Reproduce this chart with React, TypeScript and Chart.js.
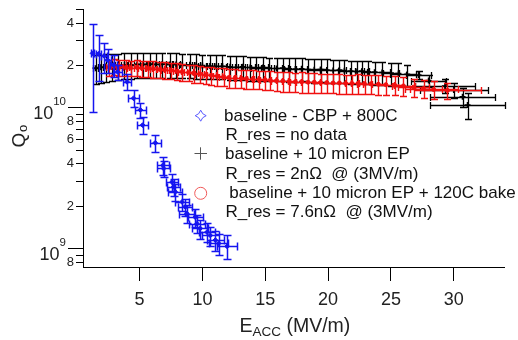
import React, { useEffect, useRef } from "react";
import { Chart, registerables } from "chart.js";
Chart.register(...registerables);

const FONT = "'Liberation Sans', Arial, Helvetica, sans-serif";

// ---- data: baseline - CBP + 800C (blue) ----
const blueE = [1.26, 1.74, 2.19, 2.45, 2.93, 3.25, 4.0, 4.52, 5.06, 5.24, 6.25, 6.86, 6.91, 7.58, 7.71, 7.84, 8.38, 8.64, 8.77, 9.43, 9.57, 9.83, 10.37, 10.63, 11.03, 11.29, 11.96];
const blueQ = [2.42e10, 2.4e10, 2.32e10, 2.17e10, 2.0e10, 1.79e10, 1.52e10, 1.16e10, 9.6e9, 7.48e9, 5.6e9, 3.88e9, 3.68e9, 2.95e9, 2.72e9, 2.51e9, 2.13e9, 1.96e9, 1.76e9, 1.66e9, 1.49e9, 1.38e9, 1.3e9, 1.23e9, 1.14e9, 1.08e9, 1.03e9];
const blueQErr = [1.5e10, 0.87e10, 0.56e10, 0.42e10, 0.36e10, 0.22e10, 0.2e10, 0.16e10, 0.12e10, 0.1e10, 0.8e9, 0.55e9, 0.5e9, 0.42e9, 0.38e9, 0.35e9, 0.3e9, 0.28e9, 0.25e9, 0.24e9, 0.22e9, 0.21e9, 0.2e9, 0.19e9, 0.18e9, 0.18e9, 0.2e9];
const blueEErr = [0.15, 0.2, 0.25, 0.3, 0.3, 0.35, 0.35, 0.4, 0.45, 0.45, 0.45, 0.5, 0.5, 0.5, 0.5, 0.55, 0.55, 0.55, 0.6, 0.6, 0.6, 0.65, 0.65, 0.7, 0.7, 0.75, 0.8];

// ---- data: baseline + 10 micron EP (black) ----
const blackE = [1.5, 1.9, 2.3, 2.8, 3.3, 3.8, 4.3, 4.8, 5.3, 5.8, 6.3, 6.8, 7.4, 7.9, 8.4, 9.0, 9.5, 10.0, 10.6, 11.1, 11.6, 12.2, 12.7, 13.2, 13.8, 14.3, 14.8, 15.3, 15.9, 16.4, 16.9, 17.4, 17.9, 18.4, 18.9, 19.4, 19.9, 20.4, 20.9, 21.3, 21.8, 22.3, 22.7, 23.2, 23.7, 24.3, 25.0, 25.6, 26.3, 27.2, 28.0, 29.3, 30.0, 30.7, 31.1];
const blackQ = [1.9e10, 1.93e10, 1.95e10, 1.97e10, 1.99e10, 2.0e10, 2.01e10, 2.02e10, 2.02e10, 2.03e10, 2.02e10, 2.03e10, 2.02e10, 2.02e10, 2.0e10, 2.01e10, 1.99e10, 1.98e10, 1.97e10, 1.96e10, 1.96e10, 1.94e10, 1.93e10, 1.94e10, 1.92e10, 1.91e10, 1.92e10, 1.9e10, 1.89e10, 1.9e10, 1.88e10, 1.87e10, 1.88e10, 1.86e10, 1.85e10, 1.86e10, 1.84e10, 1.83e10, 1.84e10, 1.82e10, 1.81e10, 1.8e10, 1.81e10, 1.79e10, 1.78e10, 1.77e10, 1.75e10, 1.74e10, 1.72e10, 1.7e10, 1.55e10, 1.42e10, 1.33e10, 1.19e10, 1.04e10];
const blackQErr = [0.44e10, 0.43e10, 0.43e10, 0.42e10, 0.42e10, 0.42e10, 0.41e10, 0.41e10, 0.41e10, 0.41e10, 0.4e10, 0.4e10, 0.4e10, 0.4e10, 0.39e10, 0.39e10, 0.39e10, 0.39e10, 0.38e10, 0.38e10, 0.38e10, 0.38e10, 0.37e10, 0.37e10, 0.37e10, 0.37e10, 0.37e10, 0.36e10, 0.36e10, 0.36e10, 0.36e10, 0.36e10, 0.35e10, 0.35e10, 0.35e10, 0.35e10, 0.35e10, 0.34e10, 0.34e10, 0.34e10, 0.34e10, 0.34e10, 0.33e10, 0.33e10, 0.33e10, 0.33e10, 0.32e10, 0.32e10, 0.29e10, 0.12e10, 0.15e10, 0.16e10, 0.17e10, 0.18e10, 0.22e10];
const blackEErr = [0.2, 0.2, 0.2, 0.22, 0.22, 0.24, 0.24, 0.25, 0.26, 0.27, 0.28, 0.28, 0.3, 0.3, 0.3, 0.32, 0.32, 0.33, 0.34, 0.35, 0.35, 0.36, 0.37, 0.38, 0.38, 0.4, 0.4, 0.42, 0.42, 0.43, 0.44, 0.45, 0.45, 0.46, 0.47, 0.48, 0.5, 0.5, 0.52, 0.52, 0.54, 0.55, 0.56, 0.57, 0.58, 0.6, 0.62, 0.65, 0.7, 1.0, 1.4, 2.4, 2.7, 2.6, 3.0];

// ---- data: baseline + 10 micron EP + 120C bake (red) ----
const redE = [2.6, 3.0, 3.4, 3.9, 4.3, 4.8, 5.2, 5.7, 6.1, 6.6, 7.0, 7.5, 8.0, 8.4, 8.9, 9.3, 9.8, 10.3, 10.7, 11.2, 11.7, 12.1, 12.6, 13.1, 13.5, 14.0, 14.5, 15.0, 15.4, 15.9, 16.4, 16.9, 17.4, 17.9, 18.4, 18.9, 19.4, 19.9, 20.4, 20.9, 21.4, 21.9, 22.4, 22.9, 23.4, 24.0, 24.6, 25.3, 26.0, 26.8, 27.6, 28.4, 29.5];
const redQ = [1.93e10, 1.96e10, 1.93e10, 1.92e10, 1.91e10, 1.92e10, 1.9e10, 1.89e10, 1.88e10, 1.86e10, 1.85e10, 1.83e10, 1.81e10, 1.79e10, 1.77e10, 1.75e10, 1.73e10, 1.71e10, 1.69e10, 1.67e10, 1.65e10, 1.63e10, 1.62e10, 1.61e10, 1.6e10, 1.59e10, 1.58e10, 1.57e10, 1.56e10, 1.55e10, 1.54e10, 1.53e10, 1.52e10, 1.52e10, 1.51e10, 1.51e10, 1.5e10, 1.5e10, 1.49e10, 1.49e10, 1.48e10, 1.48e10, 1.48e10, 1.47e10, 1.47e10, 1.46e10, 1.45e10, 1.44e10, 1.42e10, 1.39e10, 1.36e10, 1.34e10, 1.32e10];
const redQErr = [0.25e10, 0.26e10, 0.25e10, 0.25e10, 0.24e10, 0.25e10, 0.25e10, 0.24e10, 0.25e10, 0.24e10, 0.25e10, 0.24e10, 0.25e10, 0.24e10, 0.24e10, 0.25e10, 0.24e10, 0.24e10, 0.25e10, 0.24e10, 0.24e10, 0.25e10, 0.24e10, 0.24e10, 0.25e10, 0.24e10, 0.24e10, 0.25e10, 0.24e10, 0.24e10, 0.25e10, 0.24e10, 0.24e10, 0.25e10, 0.24e10, 0.24e10, 0.24e10, 0.24e10, 0.23e10, 0.24e10, 0.23e10, 0.23e10, 0.24e10, 0.23e10, 0.23e10, 0.23e10, 0.22e10, 0.22e10, 0.22e10, 0.21e10, 0.2e10, 0.2e10, 0.18e10];
const redEErr = [0.25, 0.25, 0.26, 0.27, 0.28, 0.28, 0.29, 0.3, 0.3, 0.31, 0.32, 0.32, 0.33, 0.34, 0.34, 0.35, 0.36, 0.36, 0.37, 0.38, 0.38, 0.39, 0.4, 0.4, 0.41, 0.42, 0.42, 0.43, 0.44, 0.44, 0.45, 0.46, 0.46, 0.47, 0.48, 0.48, 0.49, 0.5, 0.5, 0.52, 0.53, 0.54, 0.56, 0.58, 0.6, 0.62, 0.66, 0.7, 0.9, 1.2, 1.5, 1.9, 2.65];

// ---- axes ----
const xTicks = [5, 10, 15, 20, 25, 30];
const xMin = 0.5;
const xMax = 34;
const yMin = 7.34e8;
const yMax = 5.0e10;
const yMajorTicks = [1e9, 1e10];
const yMajorExp = ["9", "10"];
const yMinorTicks = [8e8, 9e8, 2e9, 3e9, 4e9, 5e9, 6e9, 7e9, 8e9, 9e9, 2e10, 3e10, 4e10, 5e10];
const yMinorLabels = ["8", "", "2", "", "4", "", "6", "", "8", "", "2", "", "4", ""];

// ---- legend ----
const legendLines = [
  "baseline - CBP + 800C",
  "R_res = no data",
  "baseline + 10 micron EP",
  "R_res = 2n\u03A9  @ (3MV/m)",
  "baseline + 10 micron EP + 120C bake",
  "R_res = 7.6n\u03A9  @ (3MV/m)",
];

const SERIES = [
  { e: blueE, q: blueQ, qErr: blueQErr, eErr: blueEErr, color: "#1515f0", cap: 4, lw: 1.5 },
  { e: redE, q: redQ, qErr: redQErr, eErr: redEErr, color: "#f01010", cap: 3.5, lw: 1.4 },
  { e: blackE, q: blackQ, qErr: blackQErr, eErr: blackEErr, color: "#000000", cap: 3.5, lw: 1.3 },
];

const errorBarPlugin = {
  id: "errorBars",
  beforeDatasetDraw(chart: any, args: any) {
    const s = SERIES[args.index];
    if (!s) return;
    const { ctx, chartArea } = chart;
    const xs = chart.scales.x;
    const ys = chart.scales.y;
    ctx.save();
    ctx.beginPath();
    ctx.rect(chartArea.left, chartArea.top - 2, chartArea.right - chartArea.left + 14, chartArea.bottom - chartArea.top + 2);
    ctx.clip();
    ctx.strokeStyle = s.color;
    ctx.lineWidth = s.lw;
    ctx.beginPath();
    for (let i = 0; i < s.e.length; i++) {
      const X = Math.round(xs.getPixelForValue(s.e[i])) + 0.5;
      const Y = Math.round(ys.getPixelForValue(s.q[i])) + 0.5;
      const yt = Math.round(ys.getPixelForValue(s.q[i] + s.qErr[i])) + 0.5;
      const lo = s.q[i] - s.qErr[i];
      const yb = lo > 0 ? Math.round(ys.getPixelForValue(lo)) + 0.5 : chartArea.bottom + 20;
      const xl = Math.round(xs.getPixelForValue(s.e[i] - s.eErr[i])) + 0.5;
      const xr = Math.round(xs.getPixelForValue(s.e[i] + s.eErr[i])) + 0.5;
      const c = s.cap;
      ctx.moveTo(X, yt); ctx.lineTo(X, yb);
      ctx.moveTo(X - c, yt); ctx.lineTo(X + c, yt);
      ctx.moveTo(X - c, yb); ctx.lineTo(X + c, yb);
      ctx.moveTo(xl, Y); ctx.lineTo(xr, Y);
      ctx.moveTo(xl, Y - c); ctx.lineTo(xl, Y + c);
      ctx.moveTo(xr, Y - c); ctx.lineTo(xr, Y + c);
    }
    ctx.stroke();
    ctx.restore();
  },
};

const decorPlugin = {
  id: "decor",
  afterDraw(chart: any) {
    const { ctx, chartArea } = chart;
    const ys = chart.scales.y;
    const L = chartArea.left;
    ctx.save();
    ctx.strokeStyle = "#000";
    ctx.lineWidth = 1;
    ctx.fillStyle = "#222";
    // y ticks
    ctx.beginPath();
    yMinorTicks.forEach((v) => {
      const y = Math.round(ys.getPixelForValue(v)) + 0.5;
      ctx.moveTo(L - 7, y); ctx.lineTo(L, y);
    });
    yMajorTicks.forEach((v) => {
      const y = Math.round(ys.getPixelForValue(v)) + 0.5;
      ctx.moveTo(L - 15, y); ctx.lineTo(L, y);
    });
    ctx.stroke();
    ctx.textAlign = "right";
    ctx.textBaseline = "middle";
    ctx.font = `13px ${FONT}`;
    yMinorTicks.forEach((v, i) => {
      if (!yMinorLabels[i]) return;
      ctx.fillText(yMinorLabels[i], L - 9, ys.getPixelForValue(v) + 0.5);
    });
    ctx.textBaseline = "alphabetic";
    yMajorTicks.forEach((v, i) => {
      const y = ys.getPixelForValue(v);
      ctx.font = `11.5px ${FONT}`;
      const ew = ctx.measureText(yMajorExp[i]).width;
      const right = L - 17;
      ctx.fillText(yMajorExp[i], right, y - 2);
      ctx.font = `18px ${FONT}`;
      ctx.fillText("10", right - ew, y + 11.5);
    });
    // y title
    ctx.save();
    ctx.translate(24.5, 140);
    ctx.rotate(-Math.PI / 2);
    ctx.textAlign = "left";
    ctx.font = `19px ${FONT}`;
    ctx.fillText("Q", -7.5, 0);
    ctx.font = `13px ${FONT}`;
    ctx.fillText("o", 8, 2.5);
    ctx.restore();
    // x title
    ctx.textAlign = "left";
    ctx.font = `19.5px ${FONT}`;
    ctx.fillText("E", 239.5, 331.5);
    const eW = ctx.measureText("E").width;
    ctx.font = `13.5px ${FONT}`;
    ctx.fillText("ACC", 239.5 + eW, 336);
    const aW = ctx.measureText("ACC").width;
    ctx.font = `19.5px ${FONT}`;
    ctx.fillText(" (MV/m)", 239.5 + eW + aW, 331.5);

    // legend
    ctx.fillStyle = "#111";
    ctx.font = `17px ${FONT}`;
    const lx = [224, 225.5, 225, 225.5, 229.3, 225.5];
    const ly = [120.5, 140.3, 159, 178.5, 197.7, 217.3];
    legendLines.forEach((t, i) => ctx.fillText(t, lx[i], ly[i]));
    // diamond
    const dx = 200.7, dy = 115.7;
    ctx.strokeStyle = "#5a5aff";
    ctx.beginPath();
    ctx.moveTo(dx, dy - 5.5);
    ctx.quadraticCurveTo(dx + 1.3, dy - 1.3, dx + 5.5, dy);
    ctx.quadraticCurveTo(dx + 1.3, dy + 1.3, dx, dy + 5.5);
    ctx.quadraticCurveTo(dx - 1.3, dy + 1.3, dx - 5.5, dy);
    ctx.quadraticCurveTo(dx - 1.3, dy - 1.3, dx, dy - 5.5);
    ctx.stroke();
    // plus
    ctx.strokeStyle = "#555";
    ctx.beginPath();
    ctx.moveTo(194.5, 153.5); ctx.lineTo(207, 153.5);
    ctx.moveTo(200.5, 147.3); ctx.lineTo(200.5, 159.7);
    ctx.stroke();
    // circle
    ctx.strokeStyle = "#f05a5a";
    ctx.beginPath();
    ctx.arc(200.7, 193.3, 6, 0, Math.PI * 2);
    ctx.stroke();
    ctx.restore();
  },
};

export default function App() {
  const ref = useRef<HTMLCanvasElement>(null);
  useEffect(() => {
    if (!ref.current) return;
    const mk = (e: number[], q: number[]) => e.map((x, i) => ({ x, y: q[i] }));
    const chart = new Chart(ref.current, {
      type: "scatter",
      data: {
        datasets: [
          { label: "blue", data: mk(blueE, blueQ), pointStyle: "rectRot", pointRadius: 2.4, borderColor: "#1515f0", backgroundColor: "#1515f0", borderWidth: 1 },
          { label: "red", data: mk(redE, redQ), pointStyle: "circle", pointRadius: 2, borderColor: "#f01010", backgroundColor: "#f01010", borderWidth: 1 },
          { label: "black", data: mk(blackE, blackQ), pointStyle: "cross", pointRadius: 3, borderColor: "#000", backgroundColor: "#000", borderWidth: 1.6 },
        ],
      },
      options: {
        animation: false,
        responsive: false,
        devicePixelRatio: 1,
        layout: { padding: { left: 0, right: 14, top: 9, bottom: 0 } },
        plugins: { legend: { display: false }, tooltip: { enabled: false } },
        scales: {
          x: {
            type: "linear",
            min: xMin,
            max: xMax,
            afterBuildTicks: (s: any) => { s.ticks = xTicks.map((v) => ({ value: v })); },
            afterFit: (s: any) => { s.height = 73; },
            grid: { display: true, drawOnChartArea: false, drawTicks: true, tickLength: 14, color: "#000", lineWidth: 1 },
            border: { display: true, color: "#000", width: 1 },
            ticks: { font: { family: FONT, size: 18 }, color: "#222", padding: 8, maxRotation: 0, callback: (v: any) => String(v) },
          },
          y: {
            type: "logarithmic",
            min: yMin,
            max: yMax,
            afterFit: (s: any) => { s.width = 83; },
            grid: { display: false },
            border: { display: true, color: "#000", width: 1 },
            ticks: { display: false },
          },
        },
      },
      plugins: [errorBarPlugin, decorPlugin],
    });
    return () => chart.destroy();
  }, []);
  return <canvas ref={ref} width={518} height={340} style={{ position: "absolute", left: 0, top: 0 }} />;
}
